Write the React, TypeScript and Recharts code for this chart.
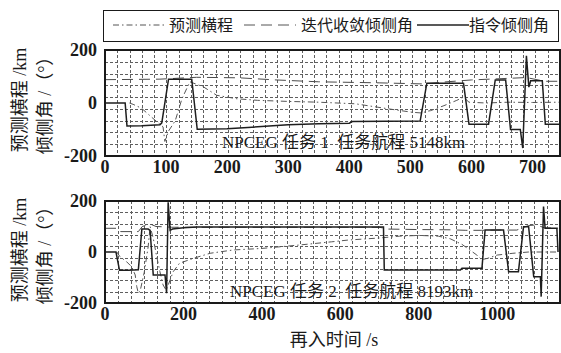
import { CartesianGrid, Line, LineChart, XAxis, YAxis } from 'recharts';

// 任务 1 (上图)
const cmd1T = [0, 33, 36, 60, 90, 93, 104, 142, 151, 200, 250, 300, 350, 400, 405, 460, 516, 527, 587, 596, 628, 639, 656, 664, 680, 684, 690, 694, 697, 716, 721, 745];
const cmd1V = [0, 0, -87, -86, -82, -75, 90, 90, -99, -97, -90, -82, -78, -76, -70, -69, -68, 75, 75, -80, -80, 87, 87, -100, -100, -170, 178, 60, 84, 84, -80, -80];
const range1T = [40, 46, 60, 77, 95, 98, 104, 115, 126, 139, 161, 183, 216, 250, 300, 350, 410, 464, 503, 520, 525, 533, 555, 576, 587, 596, 624, 660, 700, 745];
const range1V = [0, -5, -20, -55, -90, -145, -106, -67, 16, 80, 61, 29, 16, 10, 6, 3, -3, -22, -35, -38, -32, -29, -10, 10, 22, 3, 0, 3, 2, 3];
const conv1T = [0, 90, 150, 220, 280, 350, 450, 520, 560, 600, 650, 690, 720, 745];
const conv1V = [88, 90, 97, 95, 87, 80, 76, 72, 80, 87, 92, 96, 82, 82];

// 任务 2 (下图)
const cmd2T = [0, 28, 37, 60, 85, 94, 110, 115, 123, 153, 157, 161, 166, 172, 200, 234, 710, 712, 906, 910, 961, 969, 1016, 1029, 1054, 1067, 1080, 1093, 1110, 1112, 1118, 1122, 1152, 1155];
const cmd2V = [0, 0, -72, -72, -70, 90, 90, 85, -90, -90, -162, 195, 85, 90, 95, 98, 98, -71, -71, -64, -64, 86, 86, -77, -77, 99, 99, -97, -97, -175, 178, 93, 93, 0];
const range2T = [30, 38, 55, 68, 77, 81, 85, 90, 100, 110, 115, 123, 131, 140, 148, 156, 174, 190, 225, 268, 327, 400, 493, 578, 621, 700, 750, 800, 850, 880, 910, 948, 960, 975, 1000, 1040, 1080, 1120, 1155];
const range2V = [0, -18, -38, -58, -90, -136, -162, -150, -80, 20, 100, 54, -12, -77, -129, -150, -77, -44, -25, -5, 8, 14, 27, 40, 47, 55, 62, 65, 62, 52, 30, -12, -30, -25, -12, -5, 0, 0, 0];
const conv2T = [0, 35, 40, 85, 95, 115, 130, 160, 170, 700, 720, 800, 880, 920, 960, 1000, 1050, 1080, 1100, 1120, 1155];
const conv2V = [93, 93, 80, 80, 100, 110, 100, 98, 97, 97, 90, 88, 87, 85, 85, 86, 86, 104, 106, 95, 93];

const xTicks1 = [0, 100, 200, 300, 400, 500, 600, 700];
const xTicks2 = [0, 200, 400, 600, 800, 1000];
const yTicks = [-200, 0, 200];

const LEGEND = ['预测横程', '迭代收敛倾侧角', '指令倾侧角'];
const TITLE1 = 'NPCEG 任务 1  任务航程 5148km';
const TITLE2 = 'NPCEG 任务 2  任务航程 8193km';

const toPts = (t: number[], v: number[]) => t.map((x, i) => ({ t: x, v: v[i] }));

const FONT = "'Liberation Serif', 'Noto Sans CJK SC', serif";
const INK = '#1a1a1a';
const DASH_DOT = '6 3 1.5 3';
const DASH_LONG = '11 6';

type Pt = { t: number; v: number };

function Panel({
  top,
  height,
  plotTop,
  plotH,
  xMax,
  xTicks,
  xCells,
  cmd,
  range,
  conv,
}: {
  top: number;
  height: number;
  plotTop: number;
  plotH: number;
  xMax: number;
  xTicks: number[];
  xCells: number;
  cmd: Pt[];
  range: Pt[];
  conv: Pt[];
}) {
  const tick = { fontSize: 18, fontWeight: 'bold', fill: INK };
  // the scanned figure's grid: xCells columns, 9 rows (pixel-snapped so it stays crisp)
  const plotW = 455;
  const vPts = Array.from({ length: xCells - 1 }, (_, i) => Math.round(105 + ((i + 1) * plotW) / xCells) + 0.5);
  const hPts = Array.from({ length: 8 }, (_, i) => Math.round(plotTop + ((i + 1) * plotH) / 9) + 0.5);
  return (
    <div style={{ position: 'absolute', left: 0, top }}>
      <LineChart width={561} height={height} margin={{ top: plotTop, right: 1, bottom: 0, left: 0 }}>
        <CartesianGrid
          stroke="#5e5e5e"
          strokeWidth={1}
          strokeDasharray="3 2"
          verticalPoints={vPts}
          horizontalPoints={hPts}
        />
        <XAxis
          dataKey="t"
          type="number"
          domain={[0, xMax]}
          ticks={xTicks}
          allowDataOverflow
          tickLine={false}
          axisLine={false}
          tickSize={2}
          height={height - plotTop - plotH}
          tick={tick}
        />
        <YAxis
          type="number"
          domain={[-200, 200]}
          ticks={yTicks}
          allowDataOverflow
          tickLine={false}
          axisLine={false}
          width={105}
          tick={tick}
        />
        <Line data={range} dataKey="v" stroke="#555" strokeWidth={1} strokeDasharray={DASH_DOT} dot={false} isAnimationActive={false} />
        <Line data={conv} dataKey="v" stroke="#4a4a4a" strokeWidth={1} strokeDasharray={DASH_LONG} dot={false} isAnimationActive={false} />
        <Line data={cmd} dataKey="v" stroke="#1e1e1e" strokeWidth={1.5} dot={false} isAnimationActive={false} />
      </LineChart>
      <div
        style={{
          position: 'absolute',
          left: 104,
          top: plotTop - 1,
          width: 457,
          height: plotH + 2,
          border: `2px solid ${INK}`,
          boxSizing: 'border-box',
          pointerEvents: 'none',
        }}
      />
    </div>
  );
}

function VText({ x, y, children }: { x: number; y: number; children: string }) {
  return (
    <div
      style={{
        position: 'absolute',
        left: x,
        top: y,
        transform: 'translate(-50%, -50%) rotate(-90deg)',
        whiteSpace: 'nowrap',
        fontSize: 18,
        lineHeight: '20px',
        color: INK,
      }}
    >
      {children}
    </div>
  );
}

function LegendSample({ dash, color, width }: { dash?: string; color: string; width: number }) {
  return (
    <svg width={52} height={6} style={{ display: 'block' }}>
      <line x1={0} y1={3} x2={52} y2={3} stroke={color} strokeWidth={width} strokeDasharray={dash} />
    </svg>
  );
}

export default function App() {
  return (
    <div
      style={{
        position: 'absolute',
        left: 0,
        top: 0,
        width: 561,
        height: 353,
        background: '#fff',
        fontFamily: FONT,
        color: INK,
        overflow: 'hidden',
      }}
    >
      <div
        style={{
          position: 'absolute',
          left: 103,
          top: 10,
          width: 456,
          height: 32,
          border: `1.5px solid ${INK}`,
          boxSizing: 'border-box',
          fontSize: 16,
          lineHeight: '18px',
        }}
      >
        <div style={{ position: 'absolute', left: 9, top: 11 }}>
          <LegendSample dash={DASH_DOT} color="#555" width={1} />
        </div>
        <span style={{ position: 'absolute', left: 65, top: 6 }}>{LEGEND[0]}</span>
        <div style={{ position: 'absolute', left: 140, top: 11 }}>
          <LegendSample dash={DASH_LONG} color="#555" width={1} />
        </div>
        <span style={{ position: 'absolute', left: 197, top: 6 }}>{LEGEND[1]}</span>
        <div style={{ position: 'absolute', left: 313, top: 11 }}>
          <LegendSample color="#222" width={1.3} />
        </div>
        <span style={{ position: 'absolute', left: 365, top: 6 }}>{LEGEND[2]}</span>
      </div>

      <Panel
        top={0}
        height={185}
        plotTop={50}
        plotH={106}
        xMax={745}
        xTicks={xTicks1}
        xCells={37}
        cmd={toPts(cmd1T, cmd1V)}
        range={toPts(range1T, range1V)}
        conv={toPts(conv1T, conv1V)}
      />
      <Panel
        top={185}
        height={168}
        plotTop={16}
        plotH={102}
        xMax={1160}
        xTicks={xTicks2}
        xCells={35}
        cmd={toPts(cmd2T, cmd2V)}
        range={toPts(range2T, range2V)}
        conv={toPts(conv2T, conv2V)}
      />

      <div style={{ position: 'absolute', left: 222, top: 134, fontSize: 17, lineHeight: '18px', whiteSpace: 'pre' }}>{TITLE1}</div>
      <div style={{ position: 'absolute', left: 230, top: 283, fontSize: 17, lineHeight: '18px', whiteSpace: 'pre' }}>{TITLE2}</div>

      <VText x={20} y={100}>预测横程 /km</VText>
      <VText x={45} y={101}>倾侧角 /（°）</VText>
      <VText x={20} y={250}>预测横程 /km</VText>
      <VText x={45} y={251}>倾侧角 /（°）</VText>

      <div style={{ position: 'absolute', left: 334, top: 340, transform: 'translate(-50%, -50%)', fontSize: 18, lineHeight: '20px', whiteSpace: 'nowrap' }}>
        再入时间 /s
      </div>
    </div>
  );
}
